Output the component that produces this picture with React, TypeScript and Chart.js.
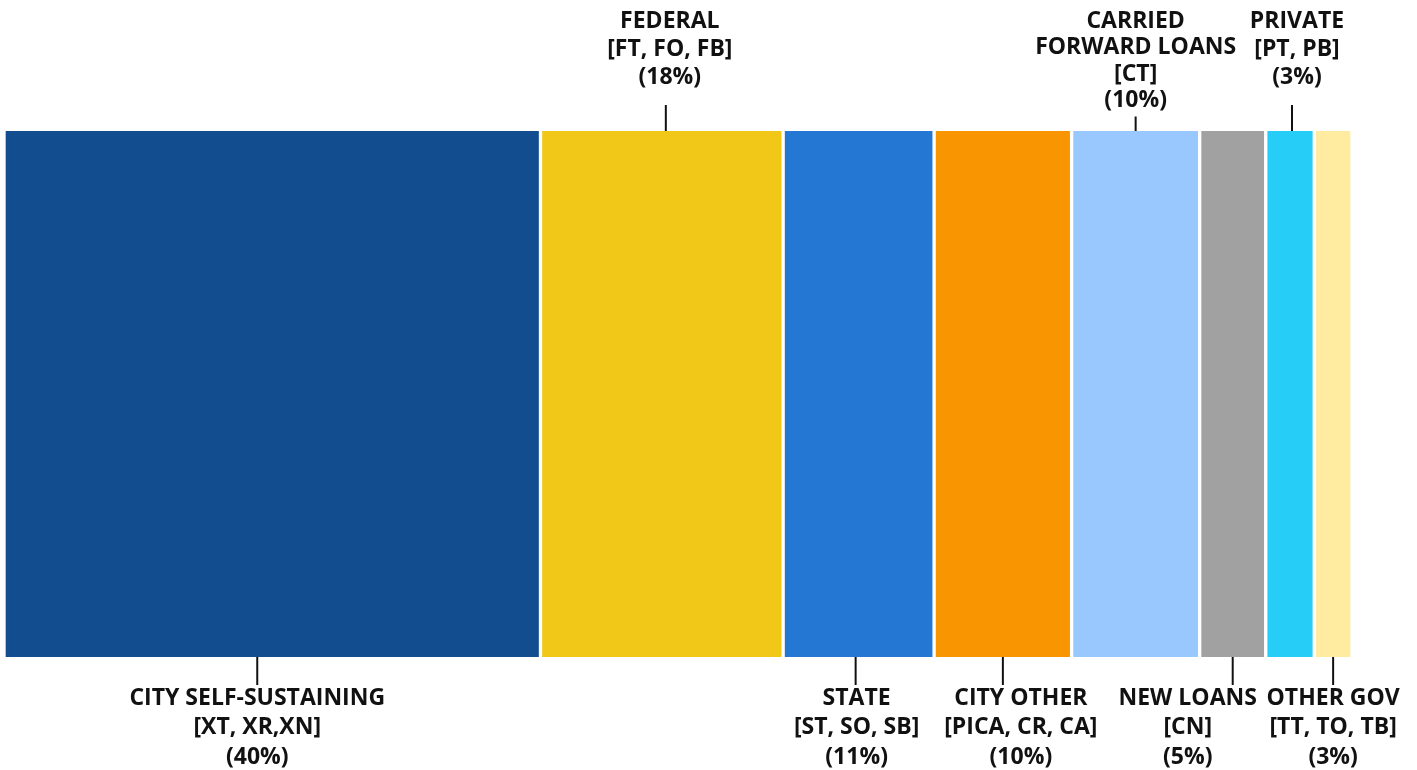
import React, { useEffect, useRef } from "react";
import { Chart, registerables } from "chart.js";

Chart.register(...registerables);

const categories = [
  "CITY SELF-SUSTAINING",
  "FEDERAL",
  "STATE",
  "CITY OTHER",
  "CARRIED FORWARD LOANS",
  "NEW LOANS",
  "PRIVATE",
  "OTHER GOV",
];
const nameLines = [
  ["CITY SELF-SUSTAINING"],
  ["FEDERAL"],
  ["STATE"],
  ["CITY OTHER"],
  ["CARRIED", "FORWARD LOANS"],
  ["NEW LOANS"],
  ["PRIVATE"],
  ["OTHER GOV"],
];
const codes = [
  "[XT, XR,XN]",
  "[FT, FO, FB]",
  "[ST, SO, SB]",
  "[PICA, CR, CA]",
  "[CT]",
  "[CN]",
  "[PT, PB]",
  "[TT, TO, TB]",
];
const percentLabels = ["(40%)", "(18%)", "(11%)", "(10%)", "(10%)", "(5%)", "(3%)", "(3%)"];
const values = [39.8, 18.0, 11.2, 10.2, 9.5, 4.9, 3.6, 2.8];
const placement = ["below", "above", "below", "below", "above", "below", "above", "below"];
const colors = [
  "#124e8f",
  "#f1c718",
  "#2477d2",
  "#f89500",
  "#99c8ff",
  "#a1a1a1",
  "#26cef7",
  "#ffeca1",
];
// style-only label nudges (px)
const leaderShift = [-15, 4, -3, 0, 0, 0, 2, 0];
const textShift = [0, 4, 1, 18, 0, -45, 5, 0];

const labelPlugin = {
  id: "segLabels",
  afterDatasetsDraw(chart: any) {
    const ctx = chart.ctx;
    ctx.save();
    ctx.font = 'bold 23px "Open Sans", "Noto Sans", sans-serif';
    ctx.fillStyle = "#111";
    ctx.strokeStyle = "#111";
    ctx.lineWidth = 2;
    ctx.textAlign = "center";
    ctx.textBaseline = "middle";
    const area = chart.chartArea;
    categories.forEach((_, i) => {
      const el = chart.getDatasetMeta(i).data[0];
      if (!el) return;
      const cx = (el.x + el.base) / 2 + leaderShift[i];
      const tx = cx + textShift[i];
      const lines = [...nameLines[i], codes[i], percentLabels[i]];
      if (placement[i] === "above") {
        const lh = lines.length > 3 ? 26.5 : 28;
        const firstY = 21;
        lines.forEach((t, k) => ctx.fillText(t, tx, firstY + k * lh));
        const lastBottom = firstY + (lines.length - 1) * lh + 10;
        const top = Math.max(lastBottom + 6, area.top - 26);
        ctx.beginPath();
        ctx.moveTo(cx, area.top);
        ctx.lineTo(cx, top);
        ctx.stroke();
      } else {
        const lh = 29.5;
        const firstY = 698;
        lines.forEach((t, k) => ctx.fillText(t, tx, firstY + k * lh));
        ctx.beginPath();
        ctx.moveTo(cx, area.bottom);
        ctx.lineTo(cx, area.bottom + 28);
        ctx.stroke();
      }
    });
    ctx.restore();
  },
};

export default function App() {
  const ref = useRef<HTMLCanvasElement | null>(null);
  useEffect(() => {
    if (!ref.current) return;
    const chart = new Chart(ref.current, {
      type: "bar",
      data: {
        labels: ["Funding"],
        datasets: categories.map((c, i) => ({
          label: c,
          data: [values[i]],
          backgroundColor: colors[i],
          borderColor: "#ffffff",
          borderWidth: { left: 2, right: 2, top: 0, bottom: 0 },
          borderSkipped: false,
          barPercentage: 1,
          categoryPercentage: 1,
        })),
      },
      options: {
        indexAxis: "y",
        responsive: false,
        animation: false,
        devicePixelRatio: 1,
        layout: { padding: { left: 4, right: 65, top: 131, bottom: 113 } },
        scales: {
          x: { stacked: true, min: 0, max: 100, display: false },
          y: { stacked: true, display: false },
        },
        plugins: {
          legend: { display: false },
          tooltip: { enabled: false },
        },
      },
      plugins: [labelPlugin],
    } as any);
    return () => chart.destroy();
  }, []);
  return (
    <div style={{ position: "absolute", left: 0, top: 0, width: 1417, height: 770, background: "#fff" }}>
      <canvas ref={ref} width={1417} height={770} style={{ display: "block" }} />
    </div>
  );
}
